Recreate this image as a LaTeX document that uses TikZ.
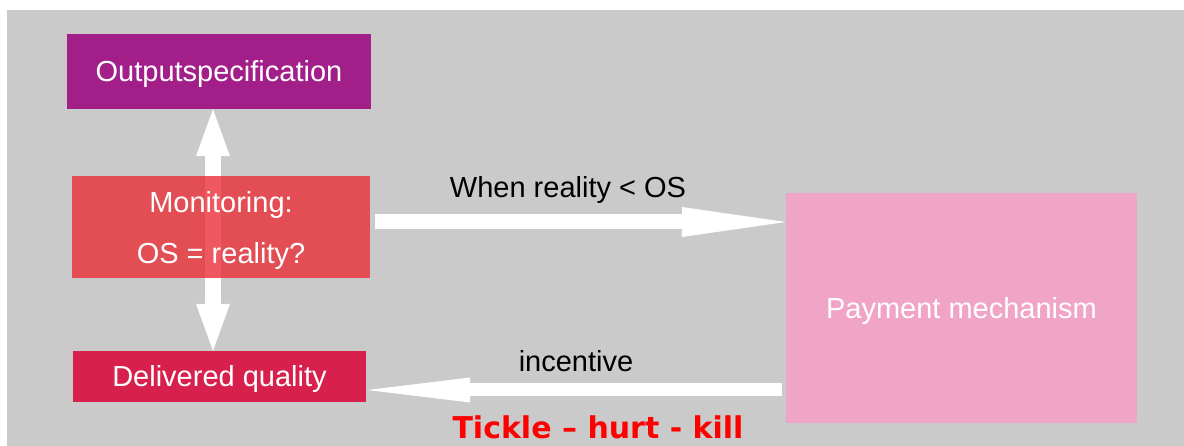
\documentclass[tikz,border=0pt]{standalone}
\usepackage{fontspec}
\setmainfont{Liberation Sans}
\newfontfamily\boldfont{DejaVu Sans}
\usetikzlibrary{arrows.meta}
\definecolor{bggray}{HTML}{CACACA}
\definecolor{ospurple}{HTML}{A21F8A}
\definecolor{monred}{RGB}{235,42,52}
\definecolor{dqred}{HTML}{D8204D}
\definecolor{pmpink}{HTML}{F0A4C6}
\tikzset{
  box/.style={rectangle, inner sep=0pt, text=white, font=\fontsize{29}{51}\selectfont, align=center, text height=20.8pt, text depth=0pt},
  lbl/.style={inner sep=0pt, text=black, font=\fontsize{29}{34}\selectfont, text height=20.8pt, text depth=0pt},
  bigarrow/.style={draw=white, line width=#1},
}
\begin{document}
\begin{tikzpicture}[x=1pt,y=-1pt]
\useasboundingbox (0,0) rectangle (1184,446);
\fill[bggray] (7,10) rectangle (1184,446);

\node[box, fill=ospurple, minimum width=304pt, minimum height=75pt] (os) at (219,71.5) {Outputspecification};
\node[box, fill=dqred, minimum width=293pt, minimum height=51pt] (dq) at (219.5,376.5) {Delivered quality};
\node[box, fill=pmpink, minimum width=351pt, minimum height=230pt] (pm) at (961.5,308) {Payment mechanism};

\coordinate (vx) at (213,0);
\draw[bigarrow=16pt, {Triangle[length=47pt,width=34pt,line width=0pt]}-{Triangle[length=47pt,width=34pt,line width=0pt]}, white]
  (os.south -| vx) -- (dq.north -| vx);

\node[box, fill=monred, fill opacity=0.78, text opacity=1, minimum width=298pt, minimum height=102pt, text height=73.8pt, text depth=0pt] (mon) at (221,227) {Monitoring:\\OS = reality?};

\coordinate (ry) at (0,222);
\draw[bigarrow=15pt, -{Triangle[length=104pt,width=30pt,line width=0pt]}, white]
  ([xshift=5pt]mon.east |- ry) -- (pm.west |- ry);

\coordinate (ly) at (0,390);
\draw[bigarrow=13pt, -{Triangle[length=103pt,width=25pt,line width=0pt]}, white]
  ([xshift=-4pt]pm.west |- ly) -- ([xshift=1pt]dq.east |- ly);

\node[lbl] (l1) at (568,187.6) {When reality < OS};
\node[lbl] (l2) at (576,361.6) {incentive};
\node[inner sep=0pt, text=red, font=\boldfont\bfseries\fontsize{30}{36}\selectfont] (l3) at (598,427) {Tickle – hurt - kill};
\end{tikzpicture}
\end{document}
